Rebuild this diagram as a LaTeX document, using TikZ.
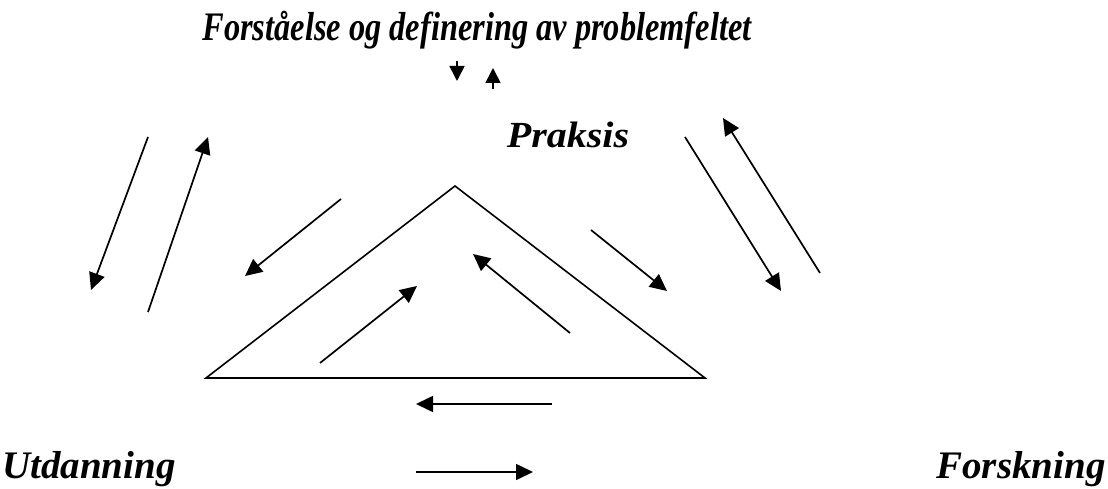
\documentclass[tikz,border=0pt]{standalone}
\usepackage{fontspec}
\setmainfont{Liberation Serif}
\usetikzlibrary{arrows.meta}
\begin{document}
\begin{tikzpicture}[x=1pt,y=-1pt,
  lbl/.style={font=\fontsize{32.4}{36}\selectfont\bfseries\itshape, inner sep=0pt, anchor=base},
  biglbl/.style={lbl, font=\fontsize{39}{42}\selectfont\bfseries\itshape},
  arr/.style={line width=1.7pt, -{Triangle[length=17pt,width=16pt]}},
  sarr/.style={line width=1.7pt, -{Triangle[length=15pt,width=15pt]}},
  tri/.style={line width=1.6pt, line join=miter}]
\useasboundingbox (0,0) rectangle (1108,489);
\node[lbl, yscale=1.25] (title) at (477,41) {Forståelse og definering av problemfeltet};
\node[biglbl, font=\fontsize{40}{44}\selectfont\bfseries\itshape, yscale=0.92] (praksis) at (568,148) {Praksis};
\node[biglbl] (utd) at (89,478) {Utdanning};
\node[biglbl] (forsk) at (1021,478) {Forskning};
% triangle
\coordinate (apex) at (455,186);
\coordinate (bl) at (206,378);
\coordinate (br) at (705,378);
\draw[tri] (apex) -- (bl) -- (br) -- cycle;
% top small arrows
\coordinate (d1) at (457,61); \coordinate (d2) at (457,81);
\coordinate (u1) at (493,89); \coordinate (u2) at (493,68);
\draw[sarr] (d1) -- (d2);
\draw[sarr] (u1) -- (u2);
% left pair
\coordinate (l1a) at (148,137); \coordinate (l1b) at (91,290);
\coordinate (l2a) at (148,312); \coordinate (l2b) at (208,137);
\draw[arr] (l1a) -- (l1b);
\draw[arr] (l2a) -- (l2b);
% right pair
\coordinate (r1a) at (685,137); \coordinate (r1b) at (781,291);
\coordinate (r2a) at (820,273); \coordinate (r2b) at (723,118);
\draw[arr] (r1a) -- (r1b);
\draw[arr] (r2a) -- (r2b);
% inner arrows
\coordinate (i1a) at (341,199); \coordinate (i1b) at (245,276);
\coordinate (i2a) at (320,363); \coordinate (i2b) at (417,286);
\coordinate (i3a) at (591,230); \coordinate (i3b) at (667,291);
\coordinate (i4a) at (570,333); \coordinate (i4b) at (473,254);
\draw[arr] (i1a) -- (i1b);
\draw[arr] (i2a) -- (i2b);
\draw[arr] (i3a) -- (i3b);
\draw[arr] (i4a) -- (i4b);
% bottom arrows
\coordinate (b1a) at (552,404); \coordinate (b1b) at (416,404);
\coordinate (b2a) at (416,472); \coordinate (b2b) at (533,472);
\draw[arr] (b1a) -- (b1b);
\draw[arr] (b2a) -- (b2b);
\end{tikzpicture}
\end{document}
